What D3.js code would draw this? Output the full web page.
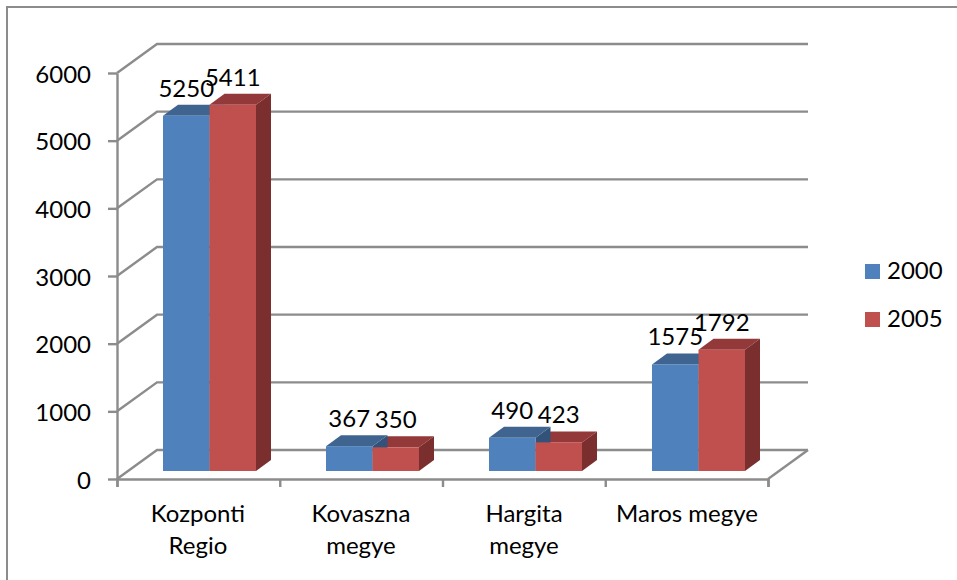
<!DOCTYPE html>
<html><head><meta charset="utf-8">
<script src="https://cdnjs.cloudflare.com/ajax/libs/d3/7.8.5/d3.min.js"></script>
<style>html,body{margin:0;padding:0;background:#fff}svg{display:block}
text{font-family:Lato,"Open Sans",sans-serif;fill:#000}</style></head><body>
<svg id="c" width="957" height="580"></svg>
<script>
const categories = [["Kozponti","Regio"],["Kovaszna","megye"],["Hargita","megye"],["Maros megye"]];
const seriesNames = ["2000","2005"];
const values2000 = [5250,367,490,1575];
const values2005 = [5411,350,423,1792];
const yTicks = [0,1000,2000,3000,4000,5000,6000];
const frontColors = ["#4F81BD","#C0504D"];
const topColors = ["#3E648F","#93393A"];
const sideColors = ["#33527A","#7A2F2E"];
const gridColor = "#8C8C8C";
const fontSize = 24;

const svg = d3.select("#c");
const dx = 40, dy = -29;           // wall offset of the 3D box
const barDx = 15, barDy = -11;     // bar depth
const yFront = d3.scaleLinear().domain([0,6000]).range([479,73]);
const yBar = d3.scaleLinear().domain([0,6000]).range([471,65]);
const x = d3.scaleBand().domain(d3.range(categories.length)).range([117,769]);
const barW = 46.5, barLead = 46;

// frame
svg.append("path").attr("d","M7 580V7H957").attr("fill","none").attr("stroke",gridColor).attr("stroke-width",2);

// walls
const g = svg.append("g").attr("fill","none").attr("stroke",gridColor).attr("stroke-width",2.4);
yTicks.forEach(t=>{
  const y = yFront(t);
  g.append("path").attr("d",`M117 ${y}L${117+dx} ${y+dy}H${768+dx}`);
});
g.append("path").attr("d",`M768 ${yFront(0)}L${768+dx} ${yFront(0)+dy}`);

// axes
const axisL = svg.append("g").attr("transform","translate(117,0)")
  .call(d3.axisLeft(yFront).tickValues(yTicks).tickFormat(d3.format("d")).tickSize(9).tickPadding(17).tickSizeOuter(0));
axisL.selectAll("text").attr("font-size",fontSize).attr("dy","0.38em");
const axisB = svg.append("g").attr("transform",`translate(0,${yFront(0)})`)
  .call(d3.axisBottom(d3.scaleLinear().domain([0,4]).range([117,768])).ticks(4).tickSize(8).tickFormat(""));
svg.selectAll(".domain, .tick line").attr("stroke",gridColor).attr("stroke-width",2.4);

// bars
const all = [values2000,values2005];
const barX = (s,i)=>x(i)+barLead+s*barW;
const poly = (pts,fill,parent)=>parent.append("polygon").attr("points",pts.map(p=>p.join(",")).join(" ")).attr("fill",fill);
const barsG = svg.append("g");
categories.forEach((c,i)=>{
  const x0=barX(0,i),x1=barX(1,i),x2=x1+barW;
  const b=yBar(0),t0=yBar(all[0][i]),t1=yBar(all[1][i]);
  poly([[x1,t1],[x1+barDx,t1+barDy],[x2+barDx,t1+barDy],[x2,t1]],topColors[1],barsG);
  poly([[x2,t1],[x2+barDx,t1+barDy],[x2+barDx,b+barDy],[x2,b]],sideColors[1],barsG);
  poly([[x1,t0],[x1+barDx,t0+barDy],[x1+barDx,b+barDy],[x1,b]],sideColors[0],barsG);
  poly([[x0,t0],[x0+barDx,t0+barDy],[x1+barDx,t0+barDy],[x1,t0]],topColors[0],barsG);
  barsG.append("rect").attr("x",x0).attr("y",t0).attr("width",barW).attr("height",b-t0).attr("fill",frontColors[0]);
  barsG.append("rect").attr("x",x1).attr("y",t1).attr("width",barW).attr("height",b-t1).attr("fill",frontColors[1]);
});

// data labels
all.forEach((vals,s)=>{
  svg.append("g").selectAll("text").data(vals).join("text")
    .attr("x",(d,i)=>barX(s,i)+barW/2)
    .attr("y",d=>yBar(d)-19)
    .attr("text-anchor","middle").attr("font-size",fontSize)
    .text(d=>d);
});

// category labels
categories.forEach((lines,i)=>{
  lines.forEach((l,j)=>{
    svg.append("text").attr("x",x(i)+x.bandwidth()/2-0.5).attr("y",522+j*32)
      .attr("text-anchor","middle").attr("font-size",fontSize).text(l);
  });
});

// legend
seriesNames.forEach((n,s)=>{
  const y=264+s*48;
  svg.append("rect").attr("x",865).attr("y",y).attr("width",15).attr("height",15).attr("fill",frontColors[s]);
  svg.append("text").attr("x",887).attr("y",y+15).attr("font-size",fontSize).text(n);
});
</script></body></html>
